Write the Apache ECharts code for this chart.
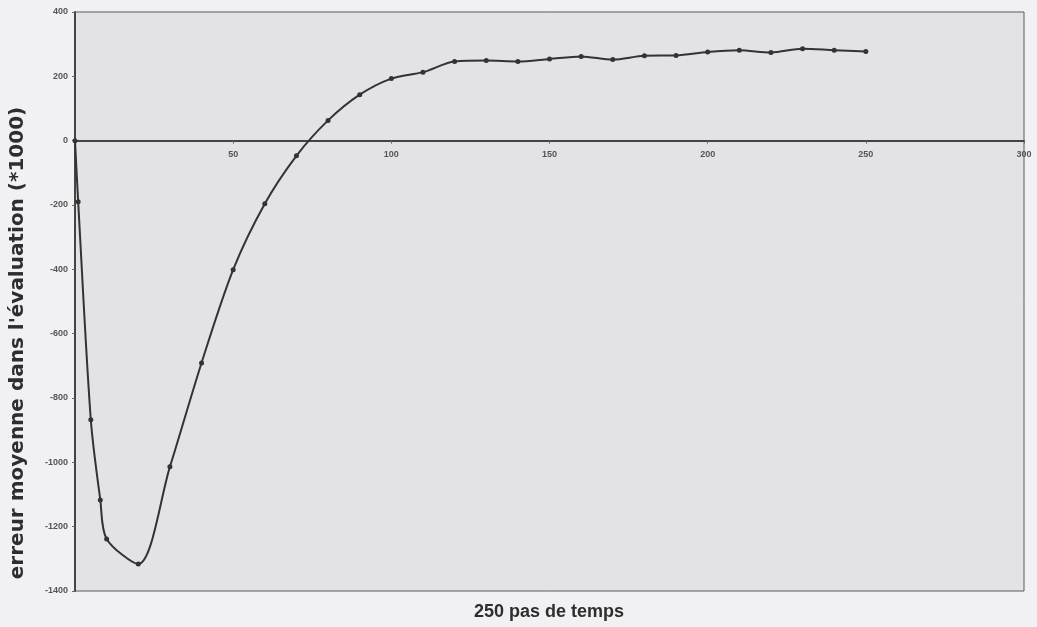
<!DOCTYPE html>
<html>
<head>
<meta charset="utf-8">
<script src="https://cdn.jsdelivr.net/npm/echarts@6/dist/echarts.min.js"></script>
<style>
html,body{margin:0;padding:0;background:#f1f1f3;}
#c{width:1037px;height:627px;}
</style>
</head>
<body>
<div id="c"></div>
<script>
// time steps (x) and mean evaluation error (*1000)
var steps = [0, 1, 5, 8, 10, 20, 30, 40, 50, 60, 70, 80, 90, 100, 110, 120, 130, 140, 150, 160, 170, 180, 190, 200, 210, 220, 230, 240, 250];
var errors = [0, -190, -868, -1117, -1238, -1316, -1014, -691, -401, -196, -47, 63, 143, 193, 213, 246, 249, 246, 254, 262, 252, 264, 265, 276, 281, 274, 286, 281, 277];
var yTicks = [-1400, -1200, -1000, -800, -600, -400, -200, 0, 200, 400];
var xTicks = [0, 50, 100, 150, 200, 250, 300];
var yName = "erreur moyenne dans l'évaluation (*1000)";
var xName = "250 pas de temps";

var data = steps.map(function (s, i) { return [s, errors[i]]; });

var chart = echarts.init(document.getElementById('c'), null, {renderer: 'canvas'});
var gridTop = 12, gridBottom = 36, H = 627;
var plotH = H - gridTop - gridBottom;
var yMin = yTicks[0], yMax = yTicks[yTicks.length - 1];
// distance from bottom edge of plot to the zero line
var zeroOffset = plotH * (0 - yMin) / (yMax - yMin);

chart.setOption({
  backgroundColor: '#f1f1f3',
  animation: false,
  graphic: [
    {
      type: 'text', x: 549, y: 612,
      style: {text: xName, textAlign: 'center', textVerticalAlign: 'middle',
        font: 'bold 18px "Liberation Sans"', fill: '#2e2e2e'}
    },
    {
      type: 'text', x: 18, y: 343, rotation: Math.PI / 2,
      style: {text: yName, textAlign: 'center', textVerticalAlign: 'middle',
        font: 'bold 20px "DejaVu Sans"', fill: '#2e2e2e'}
    }
  ],
  grid: {
    left: 75, right: 13, top: gridTop, bottom: gridBottom,
    show: true, backgroundColor: '#e3e3e5', borderColor: '#5a5a5a', borderWidth: 1
  },
  xAxis: {
    type: 'value',
    min: xTicks[0], max: xTicks[xTicks.length - 1], interval: 50,
    offset: -zeroOffset,
    axisLine: {onZero: false, lineStyle: {color: '#444', width: 2}},
    axisTick: {show: true, length: 3, lineStyle: {color: '#666'}},
    axisLabel: {
      margin: 9, fontSize: 9, fontWeight: 'bold', color: '#555', fontFamily: 'Liberation Sans',
      formatter: function (v) { return v === 0 ? '' : String(v); }
    },
    splitLine: {show: false}
  },
  yAxis: {
    type: 'value',
    min: yMin, max: yMax, interval: 200,
    axisLine: {show: true, lineStyle: {color: '#444', width: 2}},
    axisTick: {show: true, length: 3, lineStyle: {color: '#666'}},
    axisLabel: {margin: 7, fontSize: 9, fontWeight: 'bold', color: '#555', fontFamily: 'Liberation Sans',
      formatter: function (v) { return String(v); }},
    splitLine: {show: false}
  },
  series: [{
    type: 'line',
    data: data,
    smooth: 0.3,
    symbol: 'circle',
    symbolSize: 5,
    itemStyle: {color: '#333'},
    lineStyle: {color: '#333', width: 2}
  }]
});
</script>
</body>
</html>
